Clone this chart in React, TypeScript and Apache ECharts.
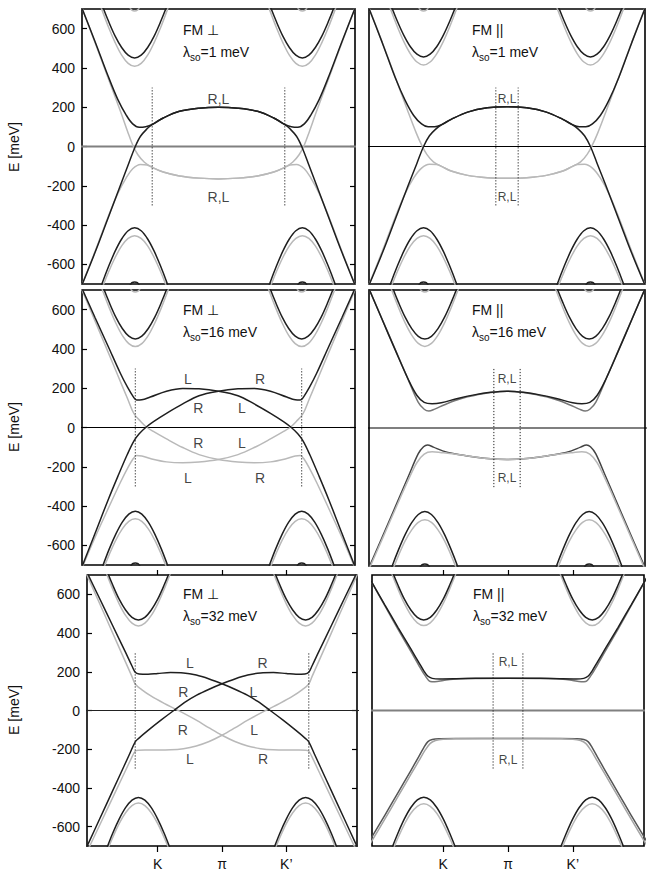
import React, { useEffect, useRef } from 'react';
import * as echarts from 'echarts';

const FONT = "'Liberation Sans', Arial, Helvetica, sans-serif";
const C_DARK = '#1f1f1f';
const C_LIGHT = '#b9b9b9';
const C_MID = '#777777';

// axis ticks
const kTicks = [-1, 0, 1];
const kTickLabels = ['K', 'π', 'K’'];
const eTicks = [-600, -400, -200, 0, 200, 400, 600];

const panelTitles = ['FM ⊥', 'FM ||', 'FM ⊥', 'FM ||', 'FM ⊥', 'FM ||'];
const lambdaValues = ['1', '1', '16', '16', '32', '32'];

// outer valley bands: offset from valley centre (k) and energies (meV)
const valleyDk = [0, 0.1, 0.2, 0.3, 0.4, 0.5, 0.6];
const valleyCenters = [1.29, 1.27, 1.28, 1.25, 1.3, 1.3];
const condDark = [
  [451, 465, 504, 562, 636, 719, 809],
  [456, 470, 508, 566, 639, 722, 812],
  [451, 465, 504, 562, 636, 719, 809],
  [451, 465, 504, 562, 636, 719, 809],
  [468, 481, 519, 575, 648, 730, 819],
  [468, 481, 519, 575, 648, 730, 819],
];
const condLight = [
  [408, 423, 465, 529, 606, 693, 786],
  [415, 430, 472, 534, 611, 697, 790],
  [412, 427, 469, 532, 609, 695, 788],
  [414, 429, 471, 533, 610, 696, 789],
  [437, 451, 491, 551, 626, 711, 802],
  [439, 453, 493, 553, 628, 712, 803],
];
const valDark = [
  [-414, -429, -471, -533, -610, -696, -789],
  [-414, -429, -471, -533, -610, -696, -789],
  [-426, -441, -482, -543, -618, -704, -796],
  [-424, -439, -480, -541, -617, -702, -795],
  [-449, -463, -502, -561, -634, -718, -808],
  [-448, -462, -501, -560, -634, -717, -808],
];
const valLight = [
  [-454, -468, -506, -565, -638, -721, -811],
  [-454, -468, -506, -565, -638, -721, -811],
  [-465, -478, -516, -573, -646, -728, -817],
  [-466, -479, -517, -573, -646, -729, -818],
  [-478, -491, -528, -584, -656, -736, -824],
  [-482, -495, -531, -588, -659, -739, -827],
];
// band tips peeking in at the frame edges (top & middle rows)
const edgeDk = [0, 0.07, 0.15];
const edgeTop = [690, 705, 800];
const edgeBottom = [-690, -705, -800];

// ---- Panel 1: FM ⊥, λso = 1 meV
const p1DarkUpper = [[-2.15,745],[-1.9,535],[-1.7,360],[-1.55,240],[-1.42,160],[-1.32,115],[-1.22,98],[-1.12,101],[-1.02,112],[-0.85,145],[-0.6,179],[-0.3,195],[0,200],[0.3,195],[0.6,179],[0.85,145],[1.02,112],[1.12,101],[1.22,98],[1.32,115],[1.42,160],[1.55,240],[1.7,360],[1.9,535],[2.15,745]];
const p1DarkLower = [[-2.15,-745],[-1.9,-540],[-1.7,-365],[-1.5,-190],[-1.38,-85],[-1.28,0],[-1.2,52],[-1.1,90],[-1.02,112],[-0.85,145],[-0.6,179],[-0.3,195],[0,200],[0.3,195],[0.6,179],[0.85,145],[1.02,112],[1.1,90],[1.2,52],[1.28,0],[1.38,-85],[1.5,-190],[1.7,-365],[1.9,-540],[2.15,-745]];
const p1LightLower = [[-2.15,-745],[-1.9,-535],[-1.7,-360],[-1.55,-240],[-1.42,-160],[-1.32,-113],[-1.2,-91],[-1.1,-94],[-1.02,-106],[-0.85,-130],[-0.6,-150],[-0.3,-161],[0,-165],[0.3,-161],[0.6,-150],[0.85,-130],[1.02,-106],[1.1,-94],[1.2,-91],[1.32,-113],[1.42,-160],[1.55,-240],[1.7,-360],[1.9,-535],[2.15,-745]];
const p1LightUpper = [[-2.15,750],[-1.9,530],[-1.7,350],[-1.5,172],[-1.4,78],[-1.32,8],[-1.24,-42],[-1.14,-80],[-1.02,-106],[-0.85,-130],[-0.6,-150],[-0.3,-161],[0,-165],[0.3,-161],[0.6,-150],[0.85,-130],[1.02,-106],[1.14,-80],[1.24,-42],[1.32,8],[1.4,78],[1.5,172],[1.7,350],[1.9,530],[2.15,750]];

// ---- Panel 2: FM ||, λso = 1 meV
const p2DarkUpper = [[-2.15,745],[-1.9,530],[-1.7,350],[-1.55,235],[-1.42,158],[-1.3,115],[-1.2,100],[-1.1,100],[-1.0,110],[-0.85,138],[-0.6,175],[-0.3,197],[0,203],[0.3,197],[0.6,175],[0.85,138],[1.0,110],[1.1,100],[1.2,100],[1.3,115],[1.42,158],[1.55,235],[1.7,350],[1.9,530],[2.15,745]];
const p2DarkLower = [[-2.15,-745],[-1.9,-545],[-1.7,-370],[-1.5,-195],[-1.37,-85],[-1.27,0],[-1.18,55],[-1.08,90],[-1.0,110],[-0.85,138],[-0.6,175],[-0.3,197],[0,203],[0.3,197],[0.6,175],[0.85,138],[1.0,110],[1.08,90],[1.18,55],[1.27,0],[1.37,-85],[1.5,-195],[1.7,-370],[1.9,-545],[2.15,-745]];
const p2LightLower = [[-2.15,-745],[-1.9,-535],[-1.7,-360],[-1.55,-240],[-1.42,-160],[-1.3,-110],[-1.18,-90],[-1.07,-92],[-0.98,-104],[-0.85,-125],[-0.6,-147],[-0.3,-159],[0,-162],[0.3,-159],[0.6,-147],[0.85,-125],[0.98,-104],[1.07,-92],[1.18,-90],[1.3,-110],[1.42,-160],[1.55,-240],[1.7,-360],[1.9,-535],[2.15,-745]];
const p2LightUpper = [[-2.15,750],[-1.9,532],[-1.7,352],[-1.5,172],[-1.38,68],[-1.3,8],[-1.22,-40],[-1.12,-78],[-0.98,-104],[-0.85,-125],[-0.6,-147],[-0.3,-159],[0,-162],[0.3,-159],[0.6,-147],[0.85,-125],[0.98,-104],[1.12,-78],[1.22,-40],[1.3,8],[1.38,68],[1.5,172],[1.7,352],[1.9,532],[2.15,750]];

// ---- Panel 3: FM ⊥, λso = 16 meV
const p3DarkA = [[-2.15,745],[-1.9,560],[-1.7,415],[-1.51,276],[-1.4,205],[-1.31,156],[-1.26,140],[-1.18,141],[-1.05,155],[-0.8,185],[-0.55,199],[-0.3,197],[0,185],[0.3,162],[0.55,120],[0.8,72],[1.0,30],[1.12,0],[1.22,-32],[1.3,-68],[1.4,-135],[1.55,-250],[1.7,-370],[1.9,-540],[2.15,-750]];
const p3DarkB = [[-2.15,-750],[-1.9,-540],[-1.7,-370],[-1.55,-250],[-1.4,-135],[-1.3,-68],[-1.22,-32],[-1.12,0],[-1.0,30],[-0.8,72],[-0.55,120],[-0.3,162],[0,185],[0.3,197],[0.55,199],[0.8,185],[1.05,155],[1.18,141],[1.26,140],[1.31,156],[1.4,205],[1.51,276],[1.7,415],[1.9,560],[2.15,745]];
const p3LightC = [[-2.15,-755],[-1.9,-560],[-1.7,-415],[-1.51,-280],[-1.4,-208],[-1.31,-158],[-1.26,-143],[-1.18,-145],[-1.05,-158],[-0.8,-175],[-0.55,-180],[-0.3,-176],[0,-163],[0.3,-138],[0.55,-102],[0.8,-58],[1.0,-20],[1.1,0],[1.2,32],[1.3,70],[1.4,148],[1.55,266],[1.7,385],[1.9,543],[2.15,740]];
const p3LightD = [[-2.15,740],[-1.9,543],[-1.7,385],[-1.55,266],[-1.4,148],[-1.3,70],[-1.2,32],[-1.1,0],[-1.0,-20],[-0.8,-58],[-0.55,-102],[-0.3,-138],[0,-163],[0.3,-176],[0.55,-180],[0.8,-175],[1.05,-158],[1.18,-145],[1.26,-143],[1.31,-158],[1.4,-208],[1.51,-280],[1.7,-415],[1.9,-560],[2.15,-755]];

// ---- Panel 4: FM ||, λso = 16 meV
const p4DarkUpper = [[-2.15,745],[-1.9,550],[-1.7,395],[-1.5,245],[-1.37,165],[-1.26,130],[-1.14,123],[-1.0,128],[-0.75,150],[-0.5,168],[-0.25,181],[0,187],[0.25,181],[0.5,168],[0.75,150],[1.0,128],[1.14,123],[1.26,130],[1.37,165],[1.5,245],[1.7,395],[1.9,550],[2.15,745]];
const p4MidUpper = [[-2.15,745],[-1.9,552],[-1.7,398],[-1.5,243],[-1.35,130],[-1.26,95],[-1.19,86],[-1.1,96],[-0.95,118],[-0.8,138],[-0.6,158],[-0.3,178],[0,187],[0.3,178],[0.6,158],[0.8,138],[0.95,118],[1.1,96],[1.19,86],[1.26,95],[1.35,130],[1.5,243],[1.7,398],[1.9,552],[2.15,745]];
const p4DarkLower = [[-2.15,-745],[-1.9,-555],[-1.7,-400],[-1.5,-245],[-1.35,-130],[-1.27,-95],[-1.21,-86],[-1.12,-97],[-0.98,-116],[-0.8,-131],[-0.6,-142],[-0.3,-155],[0,-160],[0.3,-155],[0.6,-142],[0.8,-131],[0.98,-116],[1.12,-97],[1.21,-86],[1.27,-95],[1.35,-130],[1.5,-245],[1.7,-400],[1.9,-555],[2.15,-745]];
const p4LightLower = [[-2.15,-755],[-1.9,-565],[-1.7,-412],[-1.5,-262],[-1.37,-175],[-1.26,-132],[-1.14,-121],[-1.0,-125],[-0.8,-132],[-0.6,-142],[-0.3,-155],[0,-160],[0.3,-155],[0.6,-142],[0.8,-132],[1.0,-125],[1.14,-121],[1.26,-132],[1.37,-175],[1.5,-262],[1.7,-412],[1.9,-565],[2.15,-755]];

// ---- Panel 5: FM ⊥, λso = 32 meV
const p5DarkA = [[-2.15,748],[-1.9,576],[-1.7,438],[-1.5,300],[-1.4,230],[-1.35,198],[-1.29,189],[-1.15,187],[-1.0,191],[-0.8,196],[-0.6,194],[-0.4,183],[-0.2,163],[0,138],[0.2,110],[0.4,78],[0.55,48],[0.75,0],[0.95,-50],[1.15,-103],[1.3,-145],[1.35,-162],[1.45,-234],[1.6,-342],[1.8,-486],[2.0,-630],[2.15,-738]];
const p5DarkB = [[-2.15,-738],[-2.0,-630],[-1.8,-486],[-1.6,-342],[-1.45,-234],[-1.35,-162],[-1.3,-145],[-1.15,-103],[-0.95,-50],[-0.75,0],[-0.55,48],[-0.4,78],[-0.2,110],[0,138],[0.2,163],[0.4,183],[0.6,194],[0.8,196],[1.0,191],[1.15,187],[1.29,189],[1.35,198],[1.4,230],[1.5,300],[1.7,438],[1.9,576],[2.15,748]];
const p5LightD = [[-2.15,737],[-1.9,550],[-1.7,400],[-1.5,250],[-1.4,175],[-1.35,137],[-1.25,108],[-1.1,74],[-0.9,37],[-0.68,0],[-0.4,-50],[-0.2,-90],[0,-128],[0.2,-160],[0.4,-183],[0.6,-197],[0.8,-203],[1.0,-204],[1.2,-204],[1.3,-205],[1.35,-210],[1.42,-254],[1.55,-345],[1.7,-450],[1.9,-590],[2.15,-765]];
const p5LightC = [[-2.15,-765],[-1.9,-590],[-1.7,-450],[-1.55,-345],[-1.42,-254],[-1.35,-210],[-1.3,-205],[-1.2,-204],[-1.0,-204],[-0.8,-203],[-0.6,-197],[-0.4,-183],[-0.2,-160],[0,-128],[0.2,-90],[0.4,-50],[0.68,0],[0.9,37],[1.1,74],[1.25,108],[1.35,137],[1.4,175],[1.5,250],[1.7,400],[1.9,550],[2.15,737]];

// ---- Panel 6: FM ||, λso = 32 meV
const p6DarkUpper = [[-2.15,690],[-1.9,545],[-1.7,430],[-1.5,318],[-1.38,250],[-1.3,205],[-1.24,178],[-1.17,166],[-1.05,163],[-0.8,164],[-0.5,166],[0,167],[0.5,166],[0.8,164],[1.05,163],[1.17,166],[1.24,178],[1.3,205],[1.38,250],[1.5,318],[1.7,430],[1.9,545],[2.15,690]];
const p6MidUpper = [[-2.15,690],[-1.9,540],[-1.7,420],[-1.5,305],[-1.38,235],[-1.28,180],[-1.2,150],[-1.13,148],[-1.0,155],[-0.85,162],[-0.6,165],[0,167],[0.6,165],[0.85,162],[1.0,155],[1.13,148],[1.2,150],[1.28,180],[1.38,235],[1.5,305],[1.7,420],[1.9,540],[2.15,690]];
const p6DarkLower = [[-2.15,-680],[-1.9,-540],[-1.7,-425],[-1.5,-310],[-1.38,-240],[-1.3,-192],[-1.24,-162],[-1.17,-150],[-1.05,-146],[-0.8,-145],[0,-145],[0.8,-145],[1.05,-146],[1.17,-150],[1.24,-162],[1.3,-192],[1.38,-240],[1.5,-310],[1.7,-425],[1.9,-540],[2.15,-680]];
const p6LightLower = [[-2.15,-700],[-1.9,-560],[-1.7,-445],[-1.5,-330],[-1.38,-262],[-1.28,-205],[-1.2,-170],[-1.12,-155],[-1.0,-148],[-0.8,-146],[0,-145],[0.8,-146],[1.0,-148],[1.12,-155],[1.2,-170],[1.28,-205],[1.38,-262],[1.5,-330],[1.7,-445],[1.9,-560],[2.15,-700]];

// dotted guide lines: ±k, spanning E range
const dottedK = [1.02, 0.17, 1.28, 0.2, 1.35, 0.23];
const dottedE = [-300, 300];

// band labels [k, E, text]
const p1Labels = [[0, 243, 'R,L'], [0, -255, 'R,L']];
const p2Labels = [[0, 243, 'R,L'], [0, -255, 'R,L']];
const p3Labels = [[-0.47,247,'L'],[0.64,247,'R'],[-0.31,97,'R'],[0.36,97,'L'],[-0.31,-77,'R'],[0.36,-77,'L'],[-0.47,-255,'L'],[0.64,-255,'R']];
const p4Labels = [[0, 250, 'R,L'], [0, -255, 'R,L']];
const p5Labels = [[-0.5,245,'L'],[0.63,245,'R'],[-0.6,98,'R'],[0.49,98,'L'],[-0.61,-100,'R'],[0.5,-100,'L'],[-0.5,-251,'L'],[0.64,-251,'R']];
const p6Labels = [[0, 253, 'R,L'], [0, -255, 'R,L']];

const bands: { data: number[][]; color: string }[][] = [
  [
    { data: p1LightUpper, color: C_LIGHT },
    { data: p1LightLower, color: C_LIGHT },
    { data: p1DarkUpper, color: C_DARK },
    { data: p1DarkLower, color: C_DARK },
  ],
  [
    { data: p2LightUpper, color: C_LIGHT },
    { data: p2LightLower, color: C_LIGHT },
    { data: p2DarkUpper, color: C_DARK },
    { data: p2DarkLower, color: C_DARK },
  ],
  [
    { data: p3LightC, color: C_LIGHT },
    { data: p3LightD, color: C_LIGHT },
    { data: p3DarkA, color: C_DARK },
    { data: p3DarkB, color: C_DARK },
  ],
  [
    { data: p4MidUpper, color: C_MID },
    { data: p4DarkUpper, color: C_DARK },
    { data: p4DarkLower, color: '#444444' },
    { data: p4LightLower, color: C_LIGHT },
  ],
  [
    { data: p5LightC, color: C_LIGHT },
    { data: p5LightD, color: C_LIGHT },
    { data: p5DarkA, color: C_DARK },
    { data: p5DarkB, color: C_DARK },
  ],
  [
    { data: p6MidUpper, color: C_MID },
    { data: p6DarkUpper, color: C_DARK },
    { data: p6DarkLower, color: '#555555' },
    { data: p6LightLower, color: '#a5a5a5' },
  ],
];
const labels = [p1Labels, p2Labels, p3Labels, p4Labels, p5Labels, p6Labels];

const gridRects = [
  { left: 82, top: 9, width: 273, height: 275 },
  { left: 369, top: 9, width: 276, height: 275 },
  { left: 82, top: 290, width: 273, height: 275 },
  { left: 369, top: 290, width: 276, height: 276 },
  { left: 87, top: 575, width: 270, height: 271 },
  { left: 372, top: 575, width: 272, height: 271 },
];
const zeroStyles = [
  { color: '#808080', width: 2 },
  { color: '#000000', width: 1 },
  { color: '#000000', width: 1 },
  { color: '#000000', width: 1.2 },
  { color: '#222222', width: 1.2 },
  { color: '#808080', width: 2 },
];
const isLeft = [true, false, true, false, true, false];

function lineSeries(gi: number, data: number[][], color: string, z: number, width = 1.5, type: any = 'solid', smooth: any = 0.35) {
  return {
    type: 'line', xAxisIndex: gi, yAxisIndex: gi, data, symbol: 'none', showSymbol: false,
    smooth, lineStyle: { color, width, type }, z, silent: true, animation: false,
  };
}

function valleyPoints(center: number, profile: number[], dks: number[]) {
  const pts: number[][] = [];
  for (let j = dks.length - 1; j > 0; j--) pts.push([center - dks[j], profile[j]]);
  for (let j = 0; j < dks.length; j++) pts.push([center + dks[j], profile[j]]);
  return pts;
}

function buildOption() {
  const series: any[] = [];
  for (let i = 0; i < 6; i++) {
    series.push(lineSeries(i, [[-2.2, 0], [2.2, 0]], zeroStyles[i].color, 1, zeroStyles[i].width, 'solid', false));
    for (const c of [-valleyCenters[i], valleyCenters[i]]) {
      series.push(lineSeries(i, valleyPoints(c, condLight[i], valleyDk), C_LIGHT, 2));
      series.push(lineSeries(i, valleyPoints(c, valLight[i], valleyDk), C_LIGHT, 2));
      series.push(lineSeries(i, valleyPoints(c, condDark[i], valleyDk), C_DARK, 4));
      series.push(lineSeries(i, valleyPoints(c, valDark[i], valleyDk), C_DARK, 4));
      if (i < 4) {
        series.push(lineSeries(i, valleyPoints(c, edgeTop, edgeDk), C_LIGHT, 2));
        series.push(lineSeries(i, valleyPoints(c, edgeBottom, edgeDk), C_DARK, 4));
      }
    }
    bands[i].forEach((b, j) => series.push(lineSeries(i, b.data, b.color, 3 + j * 0.1)));
    for (const k of [-dottedK[i], dottedK[i]]) {
      series.push(lineSeries(i, [[k, dottedE[0]], [k, dottedE[1]]], '#222222', 5, 1, [1.2, 1.8], false));
    }
    series.push({
      type: 'scatter', xAxisIndex: i, yAxisIndex: i, symbolSize: 0, data: labels[i], silent: true, z: 6,
      label: {
        show: true, position: 'inside', formatter: (p: any) => p.data[2],
        fontSize: isLeft[i] ? 14 : 12, fontFamily: FONT, color: '#111',
      },
    });
  }

  const xAxis: any[] = [];
  const yAxis: any[] = [];
  for (let i = 0; i < 6; i++) {
    const bottom = i >= 4;
    xAxis.push({
      gridIndex: i, type: 'value', min: -2.1, max: 2.1, position: 'bottom',
      axisLine: { show: false, onZero: false }, splitLine: { show: false },
      axisTick: { show: bottom, inside: false, length: 6, customValues: kTicks, lineStyle: { color: '#000', width: 1.2 } },
      axisLabel: {
        show: bottom, customValues: kTicks, margin: 11, fontSize: 14, fontFamily: FONT, color: '#111',
        formatter: (v: number) => kTickLabels[kTicks.indexOf(Math.round(v))],
      },
    });
    yAxis.push({
      gridIndex: i, type: 'value', min: -700, max: 700, position: 'left',
      axisLine: { show: false, onZero: false }, splitLine: { show: false },
      axisTick: { show: isLeft[i], inside: true, length: 5, customValues: eTicks, lineStyle: { color: '#000', width: 1.2 } },
      axisLabel: { show: isLeft[i], customValues: eTicks, margin: 7, fontSize: 14, fontFamily: FONT, color: '#111' },
    });
  }
  // mirrored ticks
  for (const i of [4, 5]) {
    xAxis.push({
      gridIndex: i, type: 'value', min: -2.1, max: 2.1, position: 'top',
      axisLine: { show: false, onZero: false }, splitLine: { show: false }, axisLabel: { show: false },
      axisTick: { show: true, inside: false, length: 5, customValues: kTicks, lineStyle: { color: '#000', width: 1.2 } },
    });
  }
  for (const i of [0, 2, 4]) {
    yAxis.push({
      gridIndex: i, type: 'value', min: -700, max: 700, position: 'right',
      axisLine: { show: false, onZero: false }, splitLine: { show: false }, axisLabel: { show: false },
      axisTick: { show: true, inside: true, length: 5, customValues: eTicks, lineStyle: { color: '#000', width: 1.2 } },
    });
  }

  const titleAnchors = [[183, 30, 52], [472, 30, 52], [183, 310, 332], [472, 310, 332], [183, 594, 616], [473, 594, 616]];
  const yTitleCenters = [147, 427, 710];
  const graphic: any[] = [];
  yTitleCenters.forEach((y) => graphic.push({
    type: 'text', x: 14, y, rotation: Math.PI / 2, silent: true,
    style: { text: 'E [meV]', fontSize: 14, fontFamily: FONT, fill: '#111', align: 'center', verticalAlign: 'middle' },
  }));
  titleAnchors.forEach(([x, y1, y2], i) => {
    graphic.push({
      type: 'text', x, y: y1, silent: true,
      style: { text: panelTitles[i], fontSize: 14, fontFamily: FONT, fill: '#111', align: 'left', verticalAlign: 'middle' },
    });
    graphic.push({
      type: 'text', x, y: y2, silent: true,
      style: {
        text: `{a|λ}{s|so}{a|=${lambdaValues[i]} meV}`, align: 'left', verticalAlign: 'middle',
        rich: {
          a: { fontSize: 14, fontFamily: FONT, fill: '#111', lineHeight: 16 },
          s: { fontSize: 10, fontFamily: FONT, fill: '#111', lineHeight: 10, padding: [10, 0, 0, 0] },
        },
      },
    });
  });

  return {
    animation: false,
    backgroundColor: '#ffffff',
    grid: gridRects.map((g) => ({ ...g, show: true, borderColor: '#000', borderWidth: 1.6, backgroundColor: 'transparent' })),
    xAxis, yAxis, series, graphic,
  };
}

export default function App() {
  const ref = useRef<HTMLDivElement>(null);
  useEffect(() => {
    const chart = echarts.init(ref.current!, undefined, { renderer: 'svg' });
    chart.setOption(buildOption() as any);
    return () => chart.dispose();
  }, []);
  return <div ref={ref} style={{ position: 'fixed', left: 0, top: 0, width: 647, height: 873, background: '#fff' }} />;
}
